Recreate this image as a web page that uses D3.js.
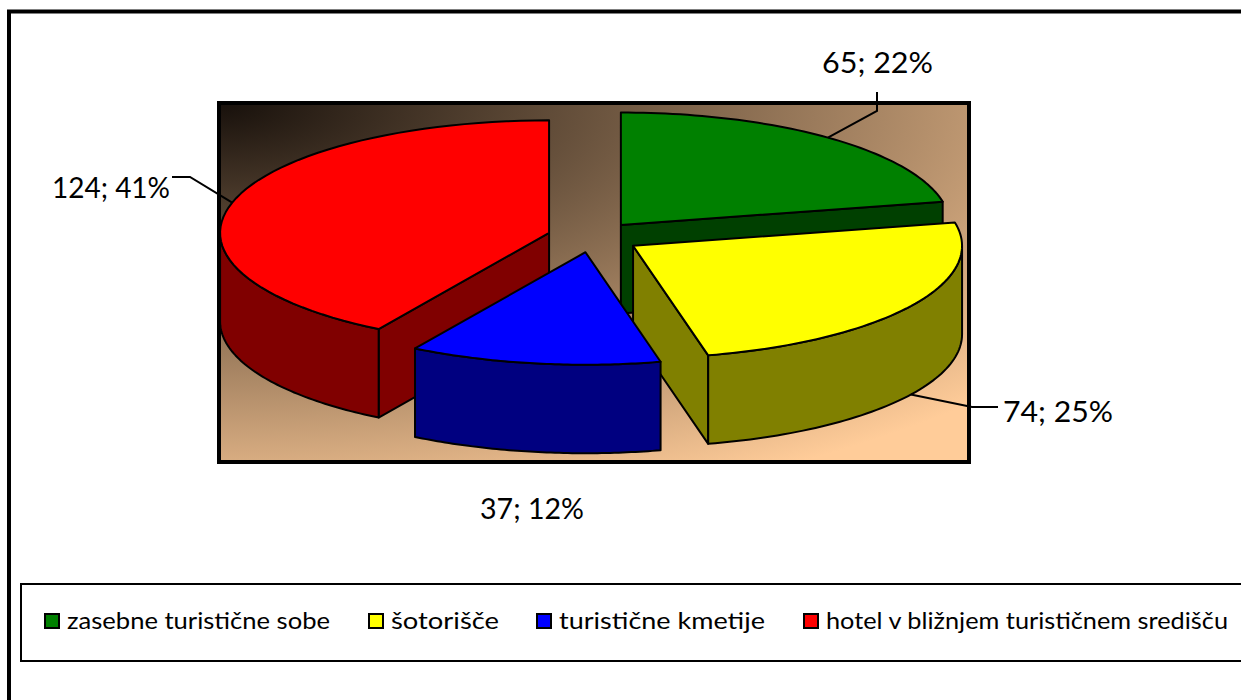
<!DOCTYPE html>
<html><head><meta charset="utf-8">
<script src="https://cdn.jsdelivr.net/npm/d3@7"></script>
<style>html,body{margin:0;padding:0;background:#fff;overflow:hidden}svg{display:block}
text{font-family:"Comic Sans MS","Lato",sans-serif;fill:#000}</style></head><body>
<svg id="c" width="1241" height="700"></svg>
<script>
const categories=["zasebne turistične sobe","šotorišče","turistične kmetije","hotel v bližnjem turističnem središču"];
const values=[65,74,37,124];
const percents=[22,25,12,41];
const topColors=["#008000","#ffff00","#0000ff","#ff0000"];
const sideColors=["#004000","#808000","#000080","#800000"];

const W=1241,H=700;
const svg=d3.select("#c");
const plot={x:219,y:103,w:750,h:359};
const center={x:592.5,y:237},rx=329,ry=112.5,depth=88.5;
const explodeBy=[0.137,0.146,0.137,0.137];
const defs=svg.append("defs");
const grad=defs.append("radialGradient").attr("id","bg").attr("cx",0).attr("cy",0).attr("r",1.25).attr("fx",0).attr("fy",0).attr("gradientTransform","scale(1.12,0.96)");
grad.append("stop").attr("offset",0).attr("stop-color","#17100b");
grad.append("stop").attr("offset",1).attr("stop-color","#ffcc99");

svg.append("rect").attr("x",9).attr("y",11.5).attr("width",W+20).attr("height",H+20).attr("fill","#fff").attr("stroke","#000").attr("stroke-width",4);
svg.append("rect").attr("x",plot.x).attr("y",plot.y).attr("width",plot.w).attr("height",plot.h).attr("fill","url(#bg)").attr("stroke","#000").attr("stroke-width",4);

const arcs=d3.pie().sort(null).value(d=>d)(values);
const px=(o,a)=>o.x+rx*Math.sin(a), py=(o,a)=>o.y-ry*Math.cos(a);
const slices=arcs.map((d,i)=>{
  const mid=(d.startAngle+d.endAngle)/2,e=explodeBy[i];
  return {i,start:d.startAngle,end:d.endAngle,mid,o:{x:center.x+e*rx*Math.sin(mid),y:center.y-e*ry*Math.cos(mid)}};
});
const line=d3.line();
const samples=(o,a0,a1,dy=0)=>d3.range(0,61).map(k=>{const a=a0+(a1-a0)*k/60;return [px(o,a),py(o,a)+dy];});
const stroke=g=>g.attr("stroke","#000").attr("stroke-width",2).attr("stroke-linejoin","round");

function drawSlice(s){
  const g=svg.append("g"),o=s.o,c=sideColors[s.i];
  const rimA=Math.max(s.start,Math.PI/2),rimB=Math.min(s.end,Math.PI*1.5);
  if(s.end<=Math.PI){
    g.append("path").attr("d",line([[o.x,o.y],[px(o,s.end),py(o,s.end)],[px(o,s.end),py(o,s.end)+depth],[o.x,o.y+depth]])+"Z").attr("fill",c).call(stroke);
  }
  if(s.start>=Math.PI && s.end>=Math.PI*1.5){
    g.append("path").attr("d",line([[o.x,o.y],[px(o,s.start),py(o,s.start)],[px(o,s.start),py(o,s.start)+depth],[o.x,o.y+depth]])+"Z").attr("fill",c).call(stroke);
  }
  if(rimB>rimA){
    const top=samples(o,rimA,rimB),bot=samples(o,rimB,rimA,depth);
    g.append("path").attr("d",line(top.concat(bot))+"Z").attr("fill",c).call(stroke);
  }
  g.append("path").attr("d",line([[o.x,o.y],...samples(o,s.start,s.end)])+"Z").attr("fill",topColors[s.i]).call(stroke);
}

const labelPos=[{x:877.5,y:73},{x:1058,y:422},{x:532,y:519},{x:111,y:198}];
const leaders=[
  s=>[[px(s.o,s.mid),py(s.o,s.mid)],[877,111],[877,92]],
  s=>[[px(s.o,s.mid),py(s.o,s.mid)+depth],[972,407],[998,407]],
  null,
  s=>[[px(s.o,s.mid),py(s.o,s.mid)],[190,177],[172,177]]
];
[0,3,1,2].forEach(i=>drawSlice(slices[i]));
slices.forEach((s,i)=>{ if(leaders[i]) svg.append("path").attr("d",line(leaders[i](s))).attr("fill","none").attr("stroke","#000").attr("stroke-width",2);});

const labelW=[111,110,104,118];
values.forEach((v,i)=>{
  svg.append("text").attr("x",labelPos[i].x-labelW[i]/2).attr("y",labelPos[i].y).attr("font-size",28).attr("textLength",labelW[i]).attr("lengthAdjust","spacingAndGlyphs").text(`${v}; ${percents[i]}%`);
});

svg.append("rect").attr("x",21).attr("y",584).attr("width",W+20).attr("height",77).attr("fill","#fff").attr("stroke","#000").attr("stroke-width",2);
const legendX=[45,369,537,804],legendW=[263,108,206,402];
categories.forEach((c,i)=>{
  svg.append("rect").attr("x",legendX[i]).attr("y",614).attr("width",14).attr("height",14).attr("fill",topColors[i]).attr("stroke","#000").attr("stroke-width",2);
  svg.append("text").attr("x",legendX[i]+22).attr("y",629).attr("font-size",24).attr("textLength",legendW[i]).attr("lengthAdjust","spacingAndGlyphs").text(c);
});
</script></body></html>
